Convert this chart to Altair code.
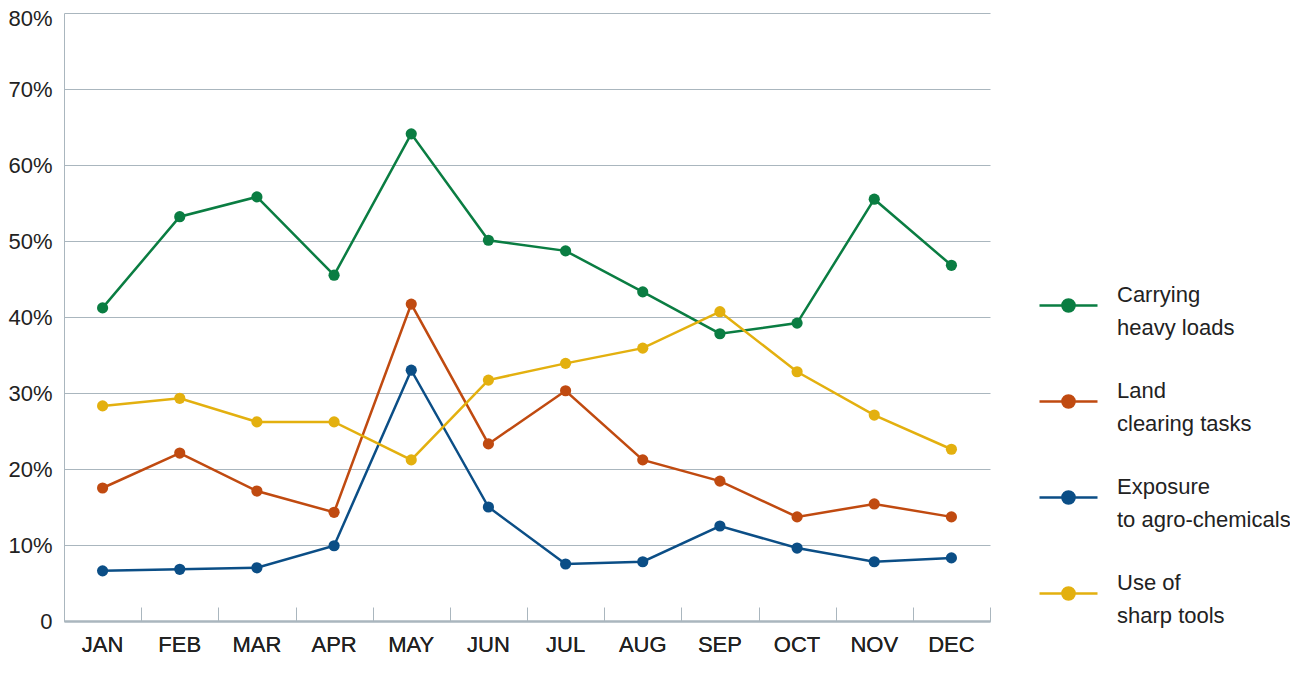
import altair as alt
import pandas as pd

months = ["JAN", "FEB", "MAR", "APR", "MAY", "JUN", "JUL", "AUG", "SEP", "OCT", "NOV", "DEC"]
series = ["Carrying|heavy loads", "Land|clearing tasks", "Exposure|to agro-chemicals", "Use of|sharp tools"]
colors = ["#0a7d42", "#c04a10", "#0b4e86", "#e3b00f"]

carrying = [41.2, 53.2, 55.8, 45.5, 64.1, 50.1, 48.7, 43.3, 37.8, 39.2, 55.5, 46.8]
land = [17.5, 22.1, 17.1, 14.3, 41.7, 23.3, 30.3, 21.2, 18.4, 13.7, 15.4, 13.7]
exposure = [6.6, 6.8, 7.0, 9.9, 33.0, 15.0, 7.5, 7.8, 12.5, 9.6, 7.8, 8.3]
sharp = [28.3, 29.3, 26.2, 26.2, 21.2, 31.7, 33.9, 35.9, 40.7, 32.8, 27.1, 22.6]

rows = []
for name, vals in zip(series, [carrying, land, exposure, sharp]):
    for m, v in zip(months, vals):
        rows.append({"month": m, "series": name, "value": v})
df = pd.DataFrame(rows)

FONT = "Liberation Sans"
GRID = "#aab6be"
TXT = "#222222"
FS = 22

# legend glyph: a line with a dot, drawn a little below the first label line
sym_path = "M-1,0.38H1M-0.21,0.38A0.21,0.21,0,1,1,0.21,0.38A0.21,0.21,0,1,1,-0.21,0.38Z"

xscale = alt.Scale(paddingInner=0, paddingOuter=0)

x_main = alt.X(
    "month:N",
    sort=months,
    scale=xscale,
    axis=alt.Axis(
        title=None,
        orient="bottom",
        labelFont=FONT,
        labelFontSize=FS,
        labelColor=TXT,
        labelPadding=13,
        labelAngle=0,
        domainColor=GRID,
        domainWidth=2,
        ticks=False,
        grid=False,
    ),
)
x_ticks = alt.X(
    "month:N",
    sort=months,
    scale=xscale,
    axis=alt.Axis(
        title=None,
        orient="bottom",
        offset=-14,
        labels=False,
        domain=False,
        tickColor=GRID,
        tickWidth=1,
        tickSize=14,
        tickBand="extent",
        grid=False,
    ),
)
y_enc = alt.Y(
    "value:Q",
    scale=alt.Scale(domain=[0, 80], nice=False),
    axis=alt.Axis(
        title=None,
        values=[0, 10, 20, 30, 40, 50, 60, 70, 80],
        labelExpr="datum.value == 0 ? '0' : datum.value + '%'",
        labelFont=FONT,
        labelFontSize=FS,
        labelColor=TXT,
        labelPadding=12,
        labelOffset={"condition": {"test": "datum.value == 80", "value": 5}, "value": 0},
        ticks=False,
        domainColor=GRID,
        domainWidth=1,
        grid=True,
        gridColor=GRID,
        gridWidth=1,
    ),
)
legend = alt.Legend(
    title=None,
    orient="none",
    legendX=974,
    legendY=251,
    padding=0,
    symbolType=sym_path,
    symbolSize=3364,
    symbolStrokeWidth=2.5,
    symbolOpacity=1,
    labelFont=FONT,
    labelFontSize=FS,
    labelColor=TXT,
    labelOffset=18,
    labelLimit=300,
    rowPadding=21,
    labelExpr="split(datum.label, '|')",
)
cscale = alt.Scale(domain=series, range=colors)

base = alt.Chart(df)
lines = base.mark_line(strokeWidth=2.5).encode(
    x=x_main, y=y_enc,
    stroke=alt.Stroke("series:N", scale=cscale, legend=legend),
)
points = base.mark_point(size=125, filled=True, opacity=1, strokeWidth=0).encode(
    x=x_main, y=y_enc,
    fill=alt.Fill("series:N", scale=cscale, legend=legend),
    stroke=alt.Stroke("series:N", scale=cscale, legend=legend),
)
ticks = base.mark_point(opacity=0).encode(x=x_ticks, y=y_enc)

chart = (
    alt.layer(lines, points, ticks)
    .resolve_axis(x="independent")
    .properties(
        width=926,
        height=608,
        autosize=alt.AutoSizeParams(type="none"),
        padding={"left": 56, "top": 5, "right": 300, "bottom": 45},
    )
    .configure(
        background="white",
        view=alt.ViewConfig(stroke=None),
        style={"guide-label": {"lineHeight": 33}},
    )
)

chart.save("out.html", embed_options={"renderer": "svg", "actions": False})
